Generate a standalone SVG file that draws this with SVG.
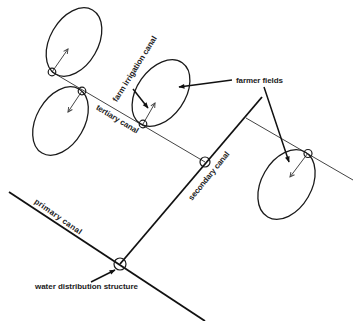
<svg xmlns="http://www.w3.org/2000/svg" width="353" height="321" viewBox="0 0 353 321">
<style>
.bg{fill:#fff}
.canal{stroke:#111;stroke-width:1.8;fill:none}
.thin{stroke:#444;stroke-width:1;fill:none}
.field{stroke:#1a1a1a;stroke-width:1.3;fill:none}
.node{stroke:#1a1a1a;stroke-width:1.2;fill:none}
.arrow{stroke:#444;stroke-width:1;fill:none}
.ptr{stroke:#111;stroke-width:1.5;fill:none}
.lbl{font-family:"Liberation Sans",Arial,sans-serif;font-size:8px;font-weight:bold;fill:#222}
</style>
<defs>
<marker id="open" viewBox="0 0 8 8" refX="7" refY="4" markerWidth="6" markerHeight="6" orient="auto" markerUnits="userSpaceOnUse"><path d="M1,1 L7,4 L1,7" fill="none" stroke="#444" stroke-width="1.3"/></marker>
<marker id="solid" viewBox="0 0 10 10" refX="9" refY="5" markerWidth="7" markerHeight="6" orient="auto" markerUnits="userSpaceOnUse"><path d="M0,1 L10,5 L0,9 z" fill="#111"/></marker>
</defs>
<rect class="bg" x="0" y="0" width="353" height="321"/>
<g id="connectors">
<line class="canal" x1="9" y1="192" x2="205" y2="321"/>
<line class="canal" x1="120" y1="264" x2="262" y2="97"/>
<line class="thin" x1="52" y1="72" x2="205" y2="162"/>
<line class="thin" x1="246" y1="118" x2="353" y2="180"/>
<line class="arrow" x1="52" y1="72" x2="68" y2="49" marker-end="url(#open)"/>
<line class="arrow" x1="82" y1="91" x2="68" y2="112" marker-end="url(#open)"/>
<line class="arrow" x1="143" y1="124" x2="155" y2="103" marker-end="url(#open)"/>
<line class="arrow" x1="308" y1="153" x2="290" y2="177" marker-end="url(#open)"/>
<line class="ptr" x1="133" y1="89" x2="148" y2="108" marker-end="url(#solid)"/>
<line class="ptr" x1="232" y1="80" x2="179" y2="87" marker-end="url(#solid)"/>
<line class="ptr" x1="264" y1="87" x2="289" y2="162" marker-end="url(#solid)"/>
<line class="ptr" x1="91" y1="282" x2="115" y2="270" marker-end="url(#solid)"/>
</g>
<g id="field1"><ellipse class="field" cx="74" cy="42" rx="24" ry="37" transform="rotate(30 74 42)"/></g>
<g id="field2"><ellipse class="field" cx="60.5" cy="121" rx="24" ry="37" transform="rotate(30 60.5 121)"/></g>
<g id="field3"><ellipse class="field" cx="161" cy="93" rx="24" ry="37" transform="rotate(35 161 93)"/></g>
<g id="field4"><ellipse class="field" cx="286.5" cy="184.5" rx="25" ry="37.5" transform="rotate(30 286.5 184.5)"/></g>
<g id="struct1"><circle class="node" cx="52" cy="72" r="3.8"/></g>
<g id="struct2"><circle class="node" cx="82" cy="91" r="3.8"/></g>
<g id="struct3"><circle class="node" cx="143" cy="124" r="3.8"/></g>
<g id="struct4"><circle class="node" cx="205" cy="162" r="5"/></g>
<g id="struct5"><circle class="node" cx="308" cy="153.5" r="4"/></g>
<g id="struct6"><circle class="node" cx="120" cy="264" r="6"/></g>
<g id="labels">
<text class="lbl" x="137" y="70.3" text-anchor="middle" textLength="76" transform="rotate(-58 137 70.3)">farm irrigation canal</text>
<text class="lbl" x="116" y="121.4" text-anchor="middle" textLength="48" transform="rotate(31 116 121.4)">tertiary canal</text>
<text class="lbl" x="211" y="177.6" text-anchor="middle" textLength="60" transform="rotate(-51 211 177.6)">secondary canal</text>
<text class="lbl" x="56.6" y="218.7" text-anchor="middle" textLength="56" transform="rotate(35 56.6 218.7)">primary canal</text>
<text class="lbl" x="236" y="83" textLength="47">farmer fields</text>
<text class="lbl" x="35" y="289" textLength="103">water distribution structure</text>
</g>
</svg>
